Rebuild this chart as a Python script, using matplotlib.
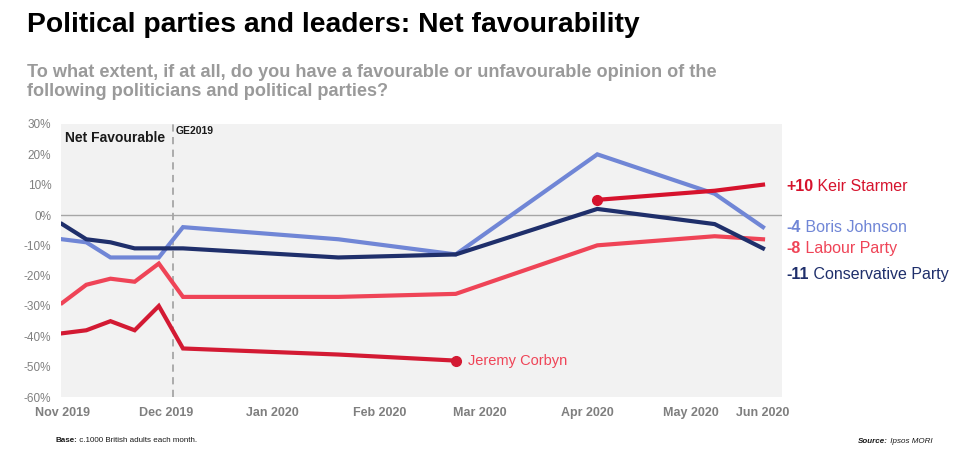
import matplotlib
matplotlib.use("Agg")
import matplotlib.pyplot as plt
import matplotlib.transforms as mtransforms
import datetime as dt

plt.rcParams['font.family'] = ['Liberation Sans', 'DejaVu Sans']

# ---- data ----
dates = ['2019-11-01', '2019-11-08', '2019-11-15', '2019-11-22', '2019-11-29',
         '2019-12-06', '2020-01-20', '2020-02-23', '2020-04-04', '2020-05-08',
         '2020-05-22']
conservative = [-3, -8, -9, -11, -11, -11, -14, -13, 2, -3, -11]
johnson = [-8, -9, -14, -14, -14, -4, -8, -13, 20, 7, -4]
labour = [-29, -23, -21, -22, -16, -27, -27, -26, -10, -7, -8]
corbyn = [-39, -38, -35, -38, -30, -44, -46, -48]
starmer_dates = ['2020-04-04', '2020-05-08', '2020-05-22']
starmer = [5, 8, 10]
ge_date = '2019-12-03'

tick_dates = ['2019-11-01', '2019-12-01', '2020-01-01', '2020-02-01',
              '2020-03-01', '2020-04-01', '2020-05-01', '2020-05-22']
tick_labels = ['Nov 2019', 'Dec 2019', 'Jan 2020', 'Feb 2020',
               'Mar 2020', 'Apr 2020', 'May 2020', 'Jun 2020']
y_ticks = [30, 20, 10, 0, -10, -20, -30, -40, -50, -60]

C_STARMER = '#d6132d'
C_CORBYN = '#d31a33'
C_LABOUR = '#ef4457'
C_JOHNSON = '#7086d6'
C_CON = '#1f2f6b'

def d(s):
    return dt.datetime.strptime(s, '%Y-%m-%d')

x = [d(s) for s in dates]
xs = [d(s) for s in starmer_dates]

fig = plt.figure(figsize=(9.6, 4.61), dpi=100)
ax = fig.add_axes([61/960, 1 - 397/461, (782-61)/960, (397-124)/461])
ax.set_facecolor('#f2f2f2')
for s in ax.spines.values():
    s.set_visible(False)

ax.axhline(0, color='#a6a6a6', lw=1, zorder=1)
ax.axvline(d(ge_date), color='#a6a6a6', lw=1.3, ls=(0, (4, 3)), zorder=1)

lw = 3
ax.plot(x, labour, color=C_LABOUR, lw=lw, zorder=3, solid_joinstyle='miter')
ax.plot(x[:len(corbyn)], corbyn, color=C_CORBYN, lw=lw, zorder=3, solid_joinstyle='miter')
ax.plot(x, johnson, color=C_JOHNSON, lw=lw, zorder=4, solid_joinstyle='miter')
ax.plot(x, conservative, color=C_CON, lw=lw, zorder=5, solid_joinstyle='miter')
ax.plot(xs, starmer, color=C_STARMER, lw=lw, zorder=6, solid_joinstyle='miter')
ax.plot([xs[0]], [starmer[0]], 'o', color=C_STARMER, ms=7, zorder=7)
ax.plot([x[len(corbyn)-1]], [corbyn[-1]], 'o', color=C_CORBYN, ms=7, zorder=7)

ax.set_xlim(d('2019-11-01') - dt.timedelta(hours=8), d('2020-05-27') + dt.timedelta(hours=12))
ax.set_ylim(-60, 30)
ax.set_yticks(y_ticks)
ax.set_yticklabels([f'{v}%' for v in y_ticks], color='#808080', fontsize=8.5)
ax.set_xticks([d(s) for s in tick_dates])
ax.set_xticklabels(tick_labels, color='#7f7f7f', fontsize=9, fontweight='bold')
ax.tick_params(axis='both', length=0)
ax.tick_params(axis='y', pad=7)
ax.tick_params(axis='x', pad=7)

# in-plot labels
ax.text(0.005, 0.95, 'Net Favourable', transform=ax.transAxes, fontsize=10,
        fontweight='bold', color='#1a1a1a', va='center', ha='left')
ax.text(d(ge_date) + dt.timedelta(days=1), 27.8, 'GE2019', fontsize=7.5,
        fontweight='bold', color='#1a1a1a', va='center', ha='left')
ax.annotate('Jeremy Corbyn', xy=(x[len(corbyn)-1], corbyn[-1]), xytext=(9, 0),
            textcoords='offset points', color=C_LABOUR, fontsize=10.5, va='center')

# right labels
trans = mtransforms.blended_transform_factory(ax.transAxes, ax.transData)
right = [
    (f'{starmer[-1]:+d}', ' Keir Starmer', C_STARMER, starmer[-1], -1),
    (f'{johnson[-1]:d}', ' Boris Johnson', C_JOHNSON, johnson[-1], 0),
    (f'{labour[-1]:d}', ' Labour Party', C_LABOUR, labour[-1], -6.5),
    (f'{conservative[-1]:d}', ' Conservative Party', C_CON, conservative[-1], -19),
]
for num, name, col, yv, off in right:
    t1 = ax.annotate(num, xy=(1.006, yv), xycoords=trans, xytext=(0, off),
                     textcoords='offset points', color=col, fontsize=11.5,
                     fontweight='bold', va='center', ha='left', annotation_clip=False)
    ax.annotate(name, xy=(1, 0), xycoords=t1, color=col, fontsize=11.5,
                va='bottom', ha='left', annotation_clip=False)

# titles
fig.text(27/960, 1 - 32/461, 'Political parties and leaders: Net favourability',
         fontsize=20.3, fontweight='bold', color='black', va='baseline', ha='left')
fig.text(27/960, 1 - 77/461, 'To what extent, if at all, do you have a favourable or unfavourable opinion of the',
         fontsize=13.1, fontweight='bold', color='#9a9a9a', va='baseline', ha='left')
fig.text(27/960, 1 - 96/461, 'following politicians and political parties?',
         fontsize=13.1, fontweight='bold', color='#9a9a9a', va='baseline', ha='left')

# footnotes
b = fig.text(55/960, 1 - 440/461, 'Base:', fontsize=5.8, fontweight='bold',
             color='#1a1a1a', va='center', ha='left')
ax.annotate(' c.1000 British adults each month.', xy=(1, 0), xycoords=b, fontsize=5.8,
            color='#1a1a1a', va='bottom', ha='left', annotation_clip=False)
s1 = fig.text(888/960, 1 - 441/461, 'Source:', fontsize=5.8, fontweight='bold',
              style='italic', color='#1a1a1a', va='center', ha='right')
ax.annotate(' Ipsos MORI', xy=(1, 0), xycoords=s1, fontsize=5.8, style='italic',
            color='#1a1a1a', va='bottom', ha='left', annotation_clip=False)

fig.savefig('out.png', dpi=100)
